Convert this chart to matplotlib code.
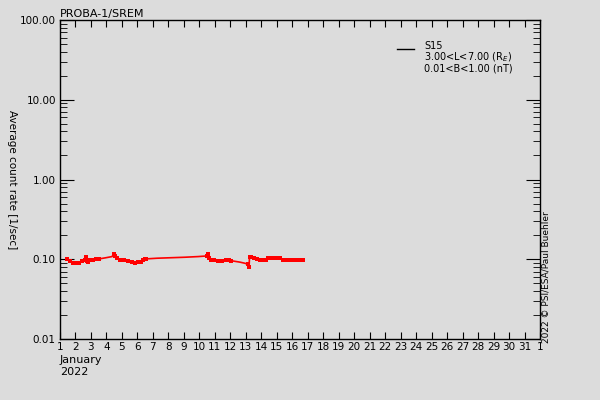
import matplotlib
matplotlib.use('Agg')
import matplotlib.pyplot as plt
from matplotlib.lines import Line2D
from matplotlib.ticker import FixedLocator, LogLocator, NullFormatter

# SREM S15 channel, January 2022
days = [1.45, 1.65, 1.84, 2.03, 2.23, 2.42, 2.61, 2.68, 2.74, 2.81, 2.94, 3.13, 3.33, 3.52,
        3.91, 4.36, 4.49, 4.55, 4.68, 4.87, 5.13, 5.39, 5.65, 5.84, 6.04, 6.23, 6.36, 6.49, 6.55,
        7.26, 9.07, 9.91, 10.49, 10.56, 10.62, 10.75, 10.95, 11.20, 11.46, 11.72, 11.91, 12.04,
        12.62, 12.95, 13.14, 13.21, 13.24, 13.34, 13.53, 13.72, 13.92, 14.11, 14.30, 14.43,
        14.62, 14.82, 15.01, 15.20, 15.40, 15.66, 15.92, 16.18, 16.44, 16.69]
rates = [0.100, 0.095, 0.091, 0.089, 0.091, 0.094, 0.097, 0.108, 0.095, 0.092, 0.097, 0.099, 0.100, 0.101,
         0.104, 0.108, 0.118, 0.110, 0.104, 0.099, 0.097, 0.095, 0.093, 0.091, 0.092, 0.093, 0.097, 0.100, 0.101,
         0.103, 0.106, 0.108, 0.110, 0.115, 0.104, 0.099, 0.097, 0.096, 0.096, 0.097, 0.099, 0.096,
         0.092, 0.089, 0.086, 0.079, 0.107, 0.108, 0.104, 0.101, 0.099, 0.097, 0.099, 0.104,
         0.104, 0.104, 0.105, 0.103, 0.099, 0.099, 0.098, 0.097, 0.097, 0.098]
# samples lying inside the data gaps (drawn as plain line)
gap_days = [3.91, 4.36, 7.26, 9.07, 9.91, 12.62, 12.95]

day_ticks = list(range(1, 33))
day_labels = [str(d) for d in range(1, 32)] + ['1']
y_ticks = [0.01, 0.1, 1, 10, 100]
y_labels = ['0.01', '0.10', '1.00', '10.00', '100.00']
legend_text = 'S15\n3.00<L<7.00 (R$_E$)\n0.01<B<1.00 (nT)'

bg = '#dcdcdc'
plt.rcParams['font.family'] = ['DejaVu Sans']
plt.rcParams['font.size'] = 7.5

fig = plt.figure(figsize=(6, 4), dpi=100, facecolor=bg)
ax = fig.add_axes([0.1, 0.1525, 0.8, 0.7975], facecolor=bg)

marks = [i for i, d in enumerate(days) if d not in gap_days]
ax.plot(days, rates, color='red', lw=1.2, marker='s', ms=2.8, mec='red', mfc='red',
        mew=0, markevery=marks)

ax.set_yscale('log')
ax.set_ylim(0.01, 100)
ax.set_xlim(1, 32)
ax.yaxis.set_major_locator(FixedLocator(y_ticks))
ax.set_yticklabels(y_labels)
ax.yaxis.set_minor_locator(LogLocator(base=10, subs=range(2, 10)))
ax.yaxis.set_minor_formatter(NullFormatter())
ax.set_xticks(day_ticks)
ax.set_xticklabels(day_labels)

for s in ax.spines.values():
    s.set_linewidth(1)
ax.tick_params(axis='y', which='major', direction='in', length=10, right=True, pad=3)
ax.tick_params(axis='y', which='minor', direction='in', length=5, right=True)
ax.tick_params(axis='x', which='major', direction='in', length=5, top=True, pad=2)

ax.set_ylabel('Average count rate [1/sec]', rotation=270, fontsize=7.5, va='center')
ax.yaxis.set_label_coords(-0.1, 0.5)

fig.text(0.1, 0.965, 'PROBA-1/SREM', fontsize=8, va='center', ha='left')
fig.text(0.1, 0.10, 'January', fontsize=8, va='center', ha='left')
fig.text(0.1, 0.07, '2022', fontsize=8, va='center', ha='left')
fig.text(0.91, 0.3075, '2022 \u00a9 PSI/ESA/Paul Buehler', rotation=90, fontsize=6.5,
         va='center', ha='center')

# legend
fig.add_artist(Line2D([397 / 600, 414 / 600], [1 - 49 / 400, 1 - 49 / 400], color='black', lw=1))
fig.text(424 / 600, 1 - 41 / 400, legend_text, fontsize=7, va='top', ha='left',
         linespacing=0.95)

fig.savefig('out.png', dpi=100, facecolor=bg)
